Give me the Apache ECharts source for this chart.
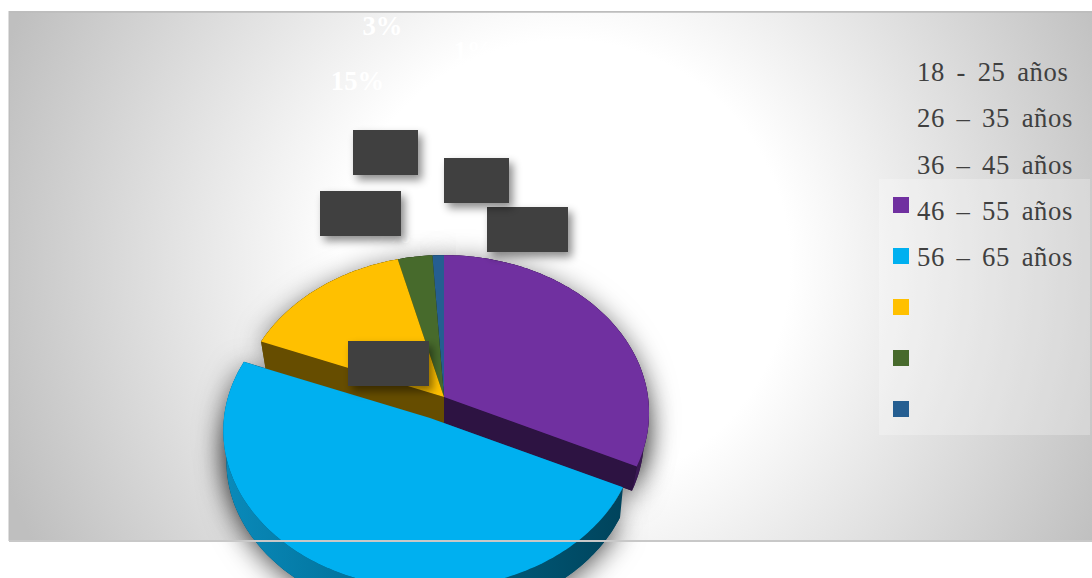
<!DOCTYPE html>
<html lang="es">
<head>
<meta charset="utf-8">
<title>Distribución por edad</title>
<style>
  html, body { margin: 0; padding: 0; background: #fff; }
  #chart { width: 1092px; height: 578px; overflow: hidden; }
  /* legend lettering is slightly tracked with wide word gaps; the percentage labels are not */
  #chart text { letter-spacing: 0.6px; word-spacing: 4.4px; }
  #chart text[style*="bold"] { letter-spacing: 0; word-spacing: 0; }
</style>
<script src="https://cdn.jsdelivr.net/npm/echarts@6/dist/echarts.min.js"></script>
</head>
<body>
<div id="chart"></div>
<script>
// Age groups and their share of respondents (percent)
const categories = ['18 - 25 años', '26 – 35 años', '36 – 45 años', '46 – 55 años', '56 – 65 años'];
const shares = [32, 49, 15, 3, 1];

// Slice appearance, same order as the groups
const topColors = ['#7030A0', '#00B0F0', '#FFC000', '#476A2C', '#255E91'];
const cutColors = ['#2D1342', '#004660', '#664D00', '#1C2A12', '#0F263A'];
const rimColors = ['#3A1853', null, '#664D00', '#243616', '#13304A'];
// Painting order: back slices first, the pulled-out slice last
const paintOrder = [3, 4, 2, 1, 0];

// Pie geometry: centre, radii, perspective factor, wall height
const bodyGeometry = { cx: 444, cy: 397, rx: 204, ry: 156, k: 0.1, depth: 26, base: 0.975 };
const pulledGeometry = { cx: 430, cy: 418, rx: 206, ry: 157, k: 0.08, depth: 31, base: 0.985 };
const pulledIndex = 1;

// Dark label plates [left, top, width, height] and the offset of each percentage
const plates = [[487, 207, 81, 45], [348, 341, 81, 45], [320, 191, 81, 45], [353, 130, 65, 45], [444, 158, 65, 45]];
const labelOffsets = [[-3, -129], [-3, -130], [-3, -133], [-3, -127], [-3, -130]];

const total = shares.reduce((a, b) => a + b, 0);

function project(g, t, drop, scale) {
  const u = Math.sin(t), v = -Math.cos(t), d = 1 - g.k * v;
  return [g.cx + scale * g.rx * u / d, g.cy + drop + scale * g.ry * v / d];
}

function arcPoints(g, a, b, drop, scale) {
  const n = Math.max(4, Math.ceil((b - a) / 0.02)), pts = [];
  for (let i = 0; i <= n; i++) pts.push(project(g, a + (b - a) * i / n, drop, scale));
  return pts;
}

function renderSlice(params, api) {
  const i = params.seriesIndex;
  const value = api.value(0);
  const before = shares.slice(0, i).reduce((a, b) => a + b, 0);
  const a = before / total * Math.PI * 2;
  const b = (before + value) / total * Math.PI * 2;
  const g = i === pulledIndex ? pulledGeometry : bodyGeometry;
  const order = paintOrder[i];
  const lift = i === pulledIndex ? 100 : 0;
  const apexTop = [g.cx, g.cy];
  const apexLow = [g.cx, g.cy + g.depth];

  const topArc = arcPoints(g, a, b, 0, 1);
  const lowArc = arcPoints(g, a, b, g.depth, g.base);
  const shadow = { shadowBlur: 28, shadowOffsetX: 0, shadowOffsetY: 6, shadowColor: 'rgba(0,0,0,0.6)' };
  const poly = (points, fill, z2, extra) => ({
    type: 'polygon', z2, shape: { points }, style: Object.assign({ fill, stroke: null }, extra || {})
  });

  const rimFill = rimColors[i] || {
    type: 'linear', x: 225, y: 0, x2: 625, y2: 0, global: true,
    colorStops: [
      { offset: 0, color: '#0A8ABA' }, { offset: 0.35, color: '#00719A' },
      { offset: 0.7, color: '#005877' }, { offset: 1, color: '#00435B' }
    ]
  };

  const children = [
    poly([apexLow].concat(lowArc), cutColors[i], order, shadow),
    poly([apexTop].concat(topArc), cutColors[i], order, shadow),
    poly(topArc.concat(lowArc.slice().reverse()), rimFill, 10 + order + lift)
  ];
  // Only the cut faces turned towards the viewer are painted
  if (b < Math.PI) {
    children.push(poly([apexTop, topArc[topArc.length - 1], lowArc[lowArc.length - 1], apexLow], cutColors[i], 20 + order + lift));
  }
  if (a > Math.PI) {
    children.push(poly([apexTop, topArc[0], lowArc[0], apexLow], cutColors[i], 20 + order + lift));
  }
  children.push(poly([apexTop].concat(topArc), topColors[i], 30 + order + lift));

  const p = plates[i], off = labelOffsets[i];
  // White percentages sit under the plates
  children.push({
    type: 'text', z2: 290,
    style: {
      x: p[0] + p[2] / 2 + off[0], y: p[1] + p[3] / 2 + off[1],
      text: value + '%', fill: '#fff', align: 'center', verticalAlign: 'middle',
      font: 'bold 26.67px "Liberation Serif", serif'
    }
  });
  children.push({
    type: 'rect', z2: 300,
    shape: { x: p[0], y: p[1], width: p[2], height: p[3] },
    style: { fill: '#404040', shadowBlur: 8, shadowOffsetX: 4, shadowOffsetY: 5, shadowColor: 'rgba(0,0,0,0.45)' }
  });
  return { type: 'group', children };
}

const chart = echarts.init(document.getElementById('chart'), null, { renderer: 'svg' });
chart.setOption({
  animation: false,
  backgroundColor: '#fff',
  legend: [
    {
      // colour keys
      data: categories, orient: 'vertical', left: 893, top: 197, padding: 0,
      itemWidth: 16, itemHeight: 16, itemGap: 35, icon: 'rect', selectedMode: false,
      formatter: () => '', textStyle: { fontSize: 1 }, z: 20
    },
    {
      // group names
      data: categories, orient: 'vertical', left: 912, top: 57, padding: 0,
      itemWidth: 0, itemHeight: 30, itemGap: 16.25, icon: 'rect', selectedMode: false,
      itemStyle: { color: 'transparent', opacity: 0 },
      textStyle: { fontFamily: '"Liberation Serif", serif', fontSize: 26.67, color: '#404040' }, z: 20
    }
  ],
  graphic: [
    {
      type: 'rect', z: -10,
      shape: { x: 9, y: 12, width: 1083, height: 529 },
      style: {
        fill: {
          type: 'radial', x: 565, y: 265, r: 600, global: true,
          colorStops: [
            { offset: 0, color: '#ffffff' }, { offset: 0.375, color: '#ffffff' },
            { offset: 1, color: '#bfbfbf' }
          ]
        }
      }
    },
    {
      type: 'rect', z: -9,
      shape: { x: 879, y: 179, width: 211, height: 256 },
      style: { fill: 'rgba(255,255,255,0.25)' }
    },
    { type: 'rect', z: -8, shape: { x: 9, y: 11, width: 1083, height: 1.7 }, style: { fill: '#bdbdbd' } },
    { type: 'rect', z: -8, shape: { x: 8.5, y: 11, width: 1.5, height: 530 }, style: { fill: '#bdbdbd' } },
    { type: 'rect', z: 50, shape: { x: 9, y: 540, width: 1083, height: 2 }, style: { fill: '#c8c8c8' } }
  ],
  series: categories.map((name, i) => ({
    type: 'custom',
    name,
    coordinateSystem: 'none',
    data: [[shares[i]]],
    itemStyle: { color: topColors[i] },
    renderItem: renderSlice,
    silent: true,
    z: 5
  }))
});
</script>
</body>
</html>
